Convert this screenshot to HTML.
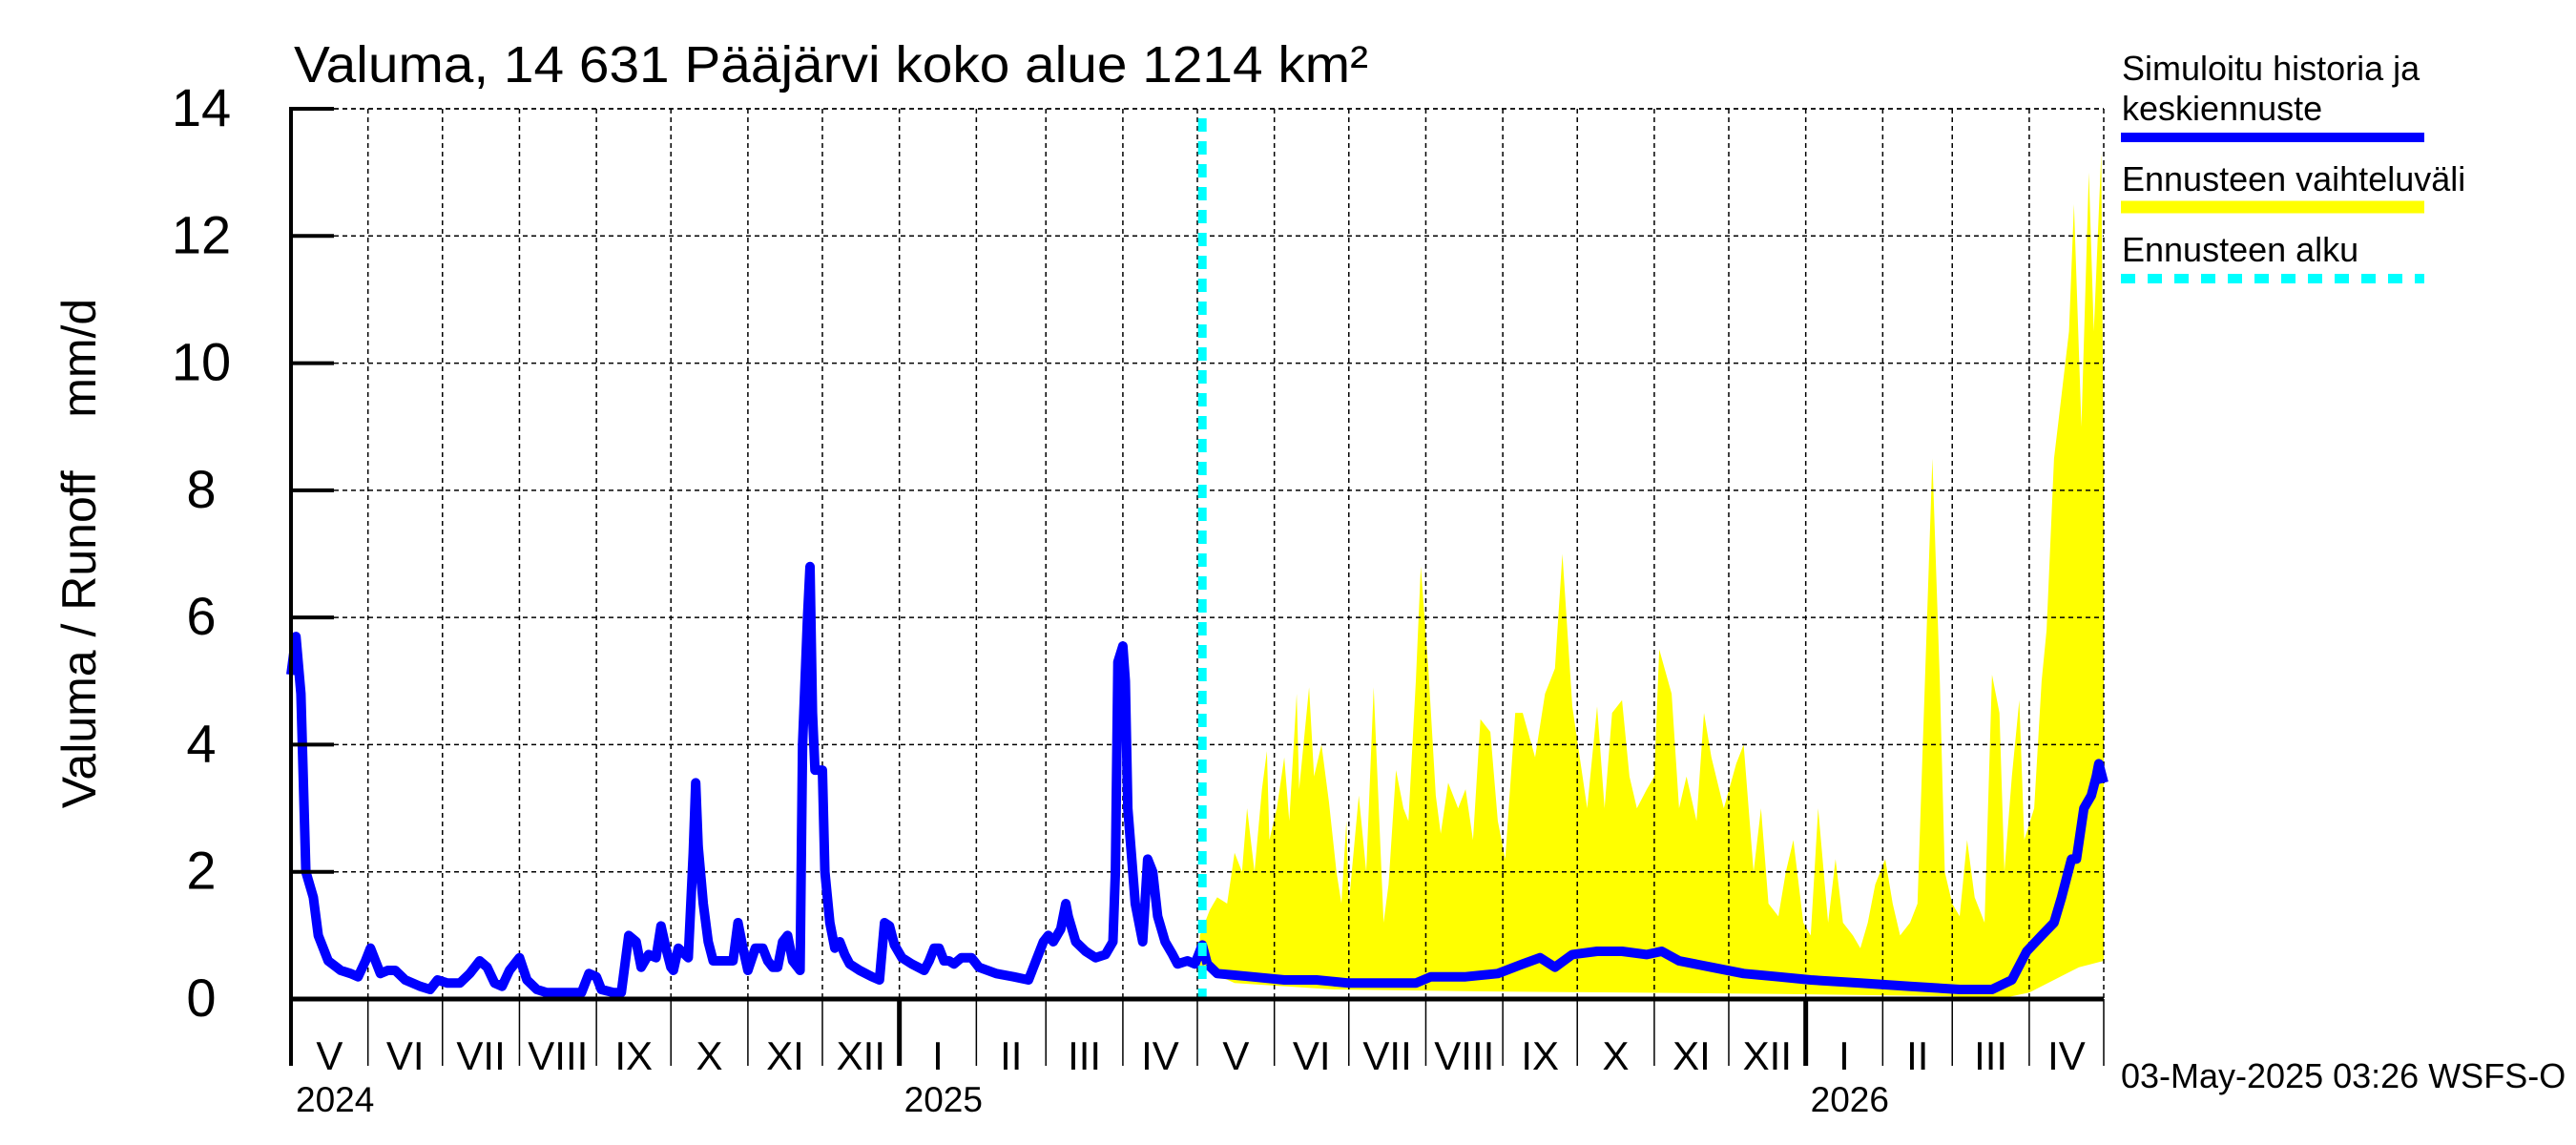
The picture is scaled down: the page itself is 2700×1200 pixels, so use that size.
<!DOCTYPE html>
<html><head><meta charset="utf-8"><style>
html,body{margin:0;padding:0;background:#fff;}
svg{display:block;}
text{font-family:"Liberation Sans",sans-serif;fill:#000;}
</style></head><body>
<svg id="chart" width="2700" height="1200" viewBox="0 0 2700 1200" xmlns="http://www.w3.org/2000/svg">
<text x="308" y="86" font-size="54" textLength="1126" lengthAdjust="spacingAndGlyphs">Valuma, 14 631 Pääjärvi koko alue 1214 km²</text>
<text transform="translate(100,580) rotate(-90)" text-anchor="middle" font-size="50" xml:space="preserve">Valuma / Runoff    mm/d</text>
<g id="band"></g>
<g id="grid"></g>
<g id="series"></g>
<g id="axes"></g>
<g>
<text x="2224" y="84" font-size="36">Simuloitu historia ja</text>
<text x="2224" y="126" font-size="36">keskiennuste</text>
<line x1="2223" y1="144" x2="2541" y2="144" stroke="#0000ff" stroke-width="10"/>
<text x="2224" y="200" font-size="36">Ennusteen vaihteluväli</text>
<line x1="2223" y1="217" x2="2541" y2="217" stroke="#ffff00" stroke-width="13"/>
<text x="2224" y="274" font-size="36">Ennusteen alku</text>
<line x1="2223" y1="292" x2="2541" y2="292" stroke="#00ffff" stroke-width="10" stroke-dasharray="15,13"/>
</g>
<text x="2223" y="1140" font-size="36">03-May-2025 03:26 WSFS-O</text>
</svg>
<script>
// data
const yTicks=[0,2,4,6,8,10,12,14];
const monthLabels=["V","VI","VII","VIII","IX","X","XI","XII","I","II","III","IV","V","VI","VII","VIII","IX","X","XI","XII","I","II","III","IV"];
const monthDays=[31,30,31,31,30,31,30,31,31,28,31,30,31,30,31,31,30,31,30,31,31,28,31,30];
const yearLabels=["2024","2025","2026"];
const yearStartMonth=[0,8,20];
const forecastStartDay=367;
const histDays=[0,2,4,6,9,11,15,20,24,27,30,32,36,39,42,46,52,56,59,63,68,72,76,79,82,85,88,92,95,99,103,111,117,120,123,125,130,133,136,139,141,144,147,149,151,153,154,156,160,162,163,164,166,168,170,174,178,180,182,184,187,190,192,194,196,198,200,202,205,206,208,209,210,211,214,215,217,219,221,223,225,229,234,237,239,241,243,246,250,255,257,259,261,263,265,267,270,274,277,284,291,297,300,303,305,307,310,312,313,316,320,324,328,331,332,333,335,336,337,340,343,345,347,349,352,355,357,361,364,367,369];
const histVals=[5.1,5.7,4.8,2.0,1.6,1.0,0.6,0.45,0.4,0.35,0.6,0.8,0.4,0.45,0.45,0.3,0.2,0.15,0.3,0.25,0.25,0.4,0.6,0.5,0.25,0.2,0.45,0.65,0.3,0.15,0.1,0.1,0.1,0.4,0.35,0.15,0.1,0.1,1.0,0.9,0.5,0.7,0.65,1.15,0.8,0.5,0.45,0.8,0.65,2.3,3.4,2.4,1.5,0.9,0.6,0.6,0.6,1.2,0.8,0.45,0.8,0.8,0.6,0.5,0.5,0.9,1.0,0.6,0.45,4.0,6.0,6.8,4.5,3.6,3.6,2.0,1.2,0.8,0.9,0.7,0.55,0.45,0.35,0.3,1.2,1.15,0.85,0.65,0.55,0.45,0.6,0.8,0.8,0.6,0.6,0.55,0.65,0.65,0.5,0.4,0.35,0.3,0.6,0.9,1.0,0.9,1.1,1.5,1.3,0.9,0.75,0.65,0.7,0.9,2.0,5.3,5.55,5.0,3.0,1.5,0.9,2.2,2.0,1.3,0.9,0.7,0.55,0.6,0.55,0.85,0.55];
const medDays=[369,373,387,400,413,426,440,453,459,473,486,496,503,509,516,526,536,546,552,559,572,585,599,612,632,652,672,685,693,699,705,710,713,717,719,722,725,727,728,730];
const medVals=[0.55,0.4,0.35,0.3,0.3,0.25,0.25,0.25,0.35,0.35,0.4,0.55,0.65,0.5,0.7,0.75,0.75,0.7,0.75,0.6,0.5,0.4,0.35,0.3,0.25,0.2,0.15,0.15,0.3,0.75,1.0,1.2,1.6,2.2,2.2,3.0,3.2,3.5,3.7,3.4];
const upDays=[366,370,373,377,380,383,385,388,391,393,394,397,400,402,405,406,410,412,415,418,421,423,425,426,430,433,436,440,442,445,448,450,453,455,458,461,463,466,470,473,476,479,483,486,489,493,496,501,505,509,512,516,519,522,526,529,532,536,539,542,546,549,551,556,559,562,566,569,572,577,582,585,589,592,595,599,602,605,609,612,615,619,622,625,629,632,635,638,642,645,648,652,655,658,661,664,666,669,672,675,678,682,685,688,690,693,696,698,702,705,707,710,713,716,718,721,724,726,729,730];
const upVals=[1.0,1.4,1.6,1.5,2.3,2.0,3.0,2.0,3.3,3.9,2.5,3.0,3.8,2.8,4.8,3.3,4.9,3.5,4.0,3.1,2.0,1.5,2.8,1.5,3.2,2.0,4.9,1.2,1.8,3.6,3.0,2.8,5.0,6.8,5.2,3.2,2.6,3.4,3.0,3.3,2.5,4.4,4.2,2.8,2.2,4.5,4.5,3.8,4.8,5.2,7.0,4.6,3.8,3.0,4.6,3.0,4.5,4.7,3.5,3.0,3.3,3.5,5.5,4.8,3.0,3.5,2.8,4.5,3.8,3.0,3.7,4.0,2.0,3.0,1.5,1.3,2.0,2.5,1.2,1.0,3.0,1.2,2.2,1.2,1.0,0.8,1.2,1.8,2.2,1.5,1.0,1.2,1.5,5.0,8.5,5.0,2.0,1.5,1.3,2.5,1.6,1.2,5.1,4.5,2.0,3.5,4.7,2.5,3.0,5.0,5.8,8.5,9.5,10.5,12.5,9.0,13.0,10.5,13.3,8.0];
const lowDays=[366,380,420,480,540,600,660,690,700,710,720,730];
const lowVals=[0.5,0.25,0.15,0.12,0.1,0.08,0.05,0.02,0.1,0.3,0.5,0.6];

const L=305,R=2205,T=114,B=1047,TOTAL=730,YMAX=14;
const NS="http://www.w3.org/2000/svg";
function xs(d){return L+(R-L)*d/TOTAL;}
function ys(v){return B-(B-T)*v/YMAX;}
function mk(tag,attrs,parent){const e=document.createElementNS(NS,tag);for(const k in attrs)e.setAttribute(k,attrs[k]);parent.appendChild(e);return e;}
const grid=document.getElementById('grid'),axes=document.getElementById('axes'),series=document.getElementById('series'),band=document.getElementById('band');

// band
let pts=[];
upDays.forEach((d,i)=>pts.push(xs(d).toFixed(1)+','+ys(upVals[i]).toFixed(1)));
for(let i=lowDays.length-1;i>=0;i--)pts.push(xs(lowDays[i]).toFixed(1)+','+ys(lowVals[i]).toFixed(1));
const bp=mk('polygon',{points:pts.join(' '),fill:'#ffff00'},band);



// horizontal grid + y ticks
yTicks.forEach(v=>{
  if(v>0){const g=mk('line',{x1:L,x2:R,y1:ys(v),y2:ys(v),stroke:'#000','stroke-width':1.5,'stroke-dasharray':'5,4'},grid);
  
  
  const t=mk('line',{x1:L,x2:L+45,y1:ys(v),y2:ys(v),stroke:'#000','stroke-width':4},axes);
  
  }
  const lb=mk('text',{x:211,y:ys(v)+18,'text-anchor':'middle','font-size':56},axes);
  lb.textContent=v;
  
  
});
// months
let cum=0;const bounds=[0];
monthDays.forEach(m=>{cum+=m;bounds.push(cum);});
bounds.forEach((d,i)=>{
  const x=xs(d);
  if(i>0){const g=mk('line',{x1:x,x2:x,y1:T,y2:B,stroke:'#000','stroke-width':1.5,'stroke-dasharray':'5,4'},grid);
  
  }
  const major=yearStartMonth.indexOf(i)>0;
  const t=mk('line',{x1:x,x2:x,y1:B,y2:1117,stroke:'#000','stroke-width':major?5:1.5},axes);
  
  
  if(i<monthLabels.length){
    const lb=mk('text',{x:(xs(d)+xs(bounds[i+1]))/2,y:1121,'text-anchor':'middle','font-size':42},axes);
    lb.textContent=monthLabels[i];
    
    
  }
});
yearLabels.forEach((y,i)=>{
  const lb=mk('text',{x:xs(bounds[yearStartMonth[i]])+5,y:1165,'font-size':37},axes);
  lb.textContent=y;
  
  
});
const tb=mk('line',{x1:L,x2:R,y1:T,y2:T,stroke:'#000','stroke-width':1.5,'stroke-dasharray':'5,4'},grid);


const xa=mk('line',{x1:L-2,x2:R,y1:B,y2:B,stroke:'#000','stroke-width':5},axes);


const ya=mk('line',{x1:L,x2:L,y1:T-2,y2:1117,stroke:'#000','stroke-width':4},axes);



// lines
function poly(days,vals){return days.map((d,i)=>xs(d).toFixed(1)+','+ys(vals[i]).toFixed(1)).join(' ');}
const h=mk('polyline',{points:poly(histDays,histVals),fill:'none',stroke:'#0000ff','stroke-width':10,'stroke-linejoin':'round'},series);


const m=mk('polyline',{points:poly(medDays,medVals),fill:'none',stroke:'#0000ff','stroke-width':10,'stroke-linejoin':'round'},series);


const fs=mk('line',{x1:xs(forecastStartDay),x2:xs(forecastStartDay),y1:T+10,y2:B,stroke:'#00ffff','stroke-width':9,'stroke-dasharray':'14,10'},series);


</script>
</body></html>
